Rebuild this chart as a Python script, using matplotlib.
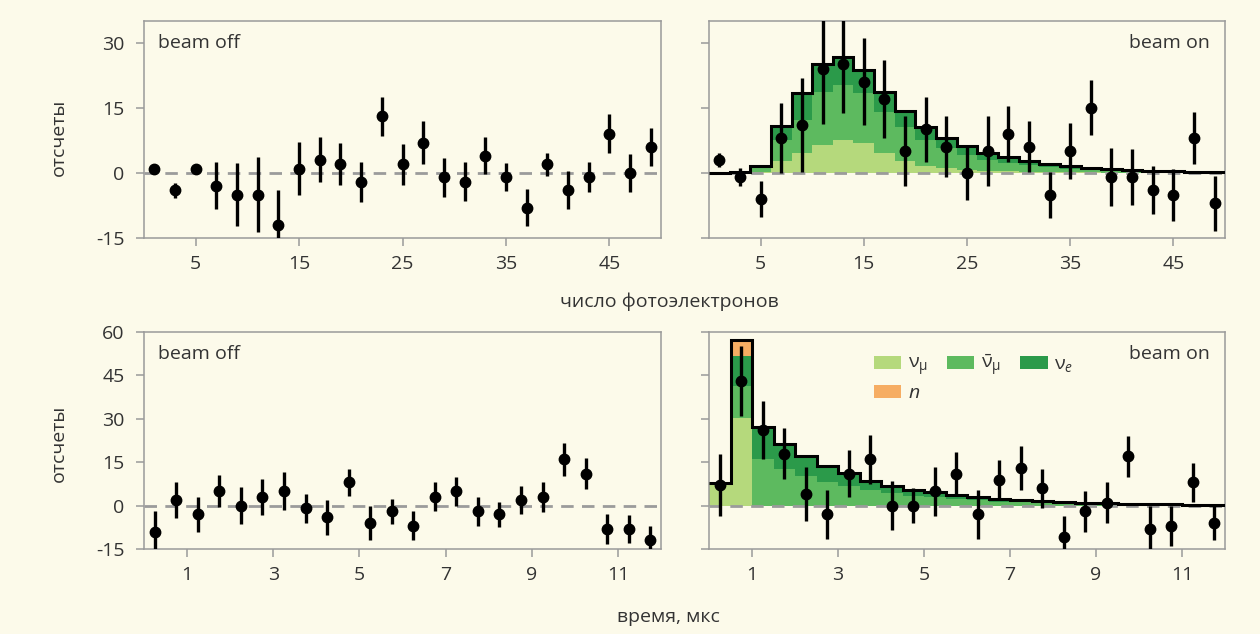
import numpy as np
import matplotlib
matplotlib.use("Agg")
import matplotlib.pyplot as plt
from matplotlib.patches import Patch

plt.rcParams["font.family"] = ["Open Sans", "DejaVu Sans"]
plt.rcParams["axes.unicode_minus"] = False
plt.rcParams["mathtext.fontset"] = "custom"
plt.rcParams["mathtext.rm"] = "Open Sans"
plt.rcParams["mathtext.it"] = "Open Sans:italic"
plt.rcParams["mathtext.bf"] = "Open Sans:bold"

# ---------------- photoelectron spectrum (bins of 2 PE) ----------------
pe_centers = np.arange(1, 50, 2)
pe_edges = np.arange(0, 51, 2)

pe_off = [1, -4, 1, -3, -5, -5, -12, 1, 3, 2, -2, 13, 2, 7, -1, -2, 4, -1, -8, 2, -4, -1, 9, 0, 6]
pe_off_err = [0.6, 1.7, 0.6, 5.4, 7.2, 8.7, 8.0, 6.2, 5.2, 4.9, 4.6, 4.6, 4.7, 5.0, 4.5, 4.5, 4.2,
              3.2, 4.3, 2.7, 4.4, 3.5, 4.5, 4.4, 4.4]

pe_on = [3, -1, -6, 8, 11, 24, 25, 21, 17, 5, 10, 6, 0, 5, 9, 6, -5, 5, 15, -1, -1, -4, -5, 8, -7]
pe_on_err = [1.6, 2.1, 4.1, 8.0, 10.9, 12.8, 11.2, 10.0, 9.0, 8.1, 7.4, 7.0, 6.3, 8.0, 6.5, 5.9,
             5.3, 6.4, 6.3, 6.7, 6.5, 5.5, 6.0, 6.0, 6.4]

pe_nu_mu = [0.02, 0.05, 0.3, 2.7, 4.6, 6.5, 7.6, 6.9, 4.6, 2.7, 1.6, 1.1, 0.7, 0.5, 0.35, 0.25,
            0.2, 0.15, 0.1, 0.08, 0.06, 0.05, 0.04, 0.03, 0.02]
pe_nu_mubar = [0.01, 0.02, 0.8, 4.9, 7.6, 12.2, 12.6, 11.4, 9.5, 7.9, 6.0, 4.6, 3.4, 2.5, 1.85,
               1.55, 1.15, 0.8, 0.6, 0.47, 0.39, 0.27, 0.21, 0.13, 0.08]
pe_nu_e = [0.02, 0.03, 0.6, 3.3, 6.1, 6.3, 6.3, 5.0, 4.3, 3.6, 3.0, 2.3, 2.0, 1.7, 1.4, 1.0,
           0.75, 0.55, 0.4, 0.35, 0.25, 0.18, 0.15, 0.09, 0.05]
pe_n = [0, 0, 0, 0, 0, 0.2, 0.3, 0.3, 0.2, 0, 0, 0, 0, 0, 0, 0, 0, 0, 0, 0, 0, 0, 0, 0, 0]

# ---------------- arrival time (bins of 0.5 us) ----------------
t_centers = np.arange(0.25, 12, 0.5)
t_edges = np.arange(0, 12.01, 0.5)

t_off = [-9, 2, -3, 5, 0, 3, 5, -1, -4, 8, -6, -2, -7, 3, 5, -2, -3, 2, 3, 16, 11, -8, -8, -12]
t_off_err = [7.2, 6.2, 6.1, 5.6, 6.3, 6.1, 6.5, 5.0, 6.0, 4.7, 6.0, 4.3, 5.0, 5.0, 5.0, 4.9,
             4.3, 4.9, 5.2, 5.7, 5.3, 5.1, 4.8, 5.0]

t_on = [7, 43, 26, 18, 4, -3, 11, 16, 0, 0, 5, 11, -3, 9, 13, 6, -11, -2, 1, 17, -8, -7, 8, -6]
t_on_err = [10.7, 12.0, 10.0, 8.7, 9.3, 8.5, 8.2, 8.4, 8.4, 6.1, 8.5, 7.6, 8.4, 6.7, 7.5, 6.7,
            7.4, 7.1, 7.0, 7.0, 8.0, 7.0, 6.8, 6.0]

t_nu_mu = [7.75, 30.2, 0, 0, 0, 0, 0, 0, 0, 0, 0, 0, 0, 0, 0, 0, 0, 0, 0, 0, 0, 0, 0, 0]
t_nu_mubar = [0, 11, 16, 12.5, 10.3, 8.3, 6.9, 5.3, 4.2, 3.4, 2.8, 2.2, 1.8, 1.4, 1.1, 0.9,
              0.75, 0.6, 0.5, 0.42, 0.36, 0.27, 0.21, 0.15]
t_nu_e = [0, 10.5, 11, 8.8, 6.8, 5.4, 4.3, 3.3, 2.6, 2.1, 1.8, 1.4, 1.1, 0.9, 0.7, 0.6, 0.5,
          0.4, 0.3, 0.28, 0.24, 0.18, 0.14, 0.1]
t_n = [0, 5.5, 0, 0, 0, 0, 0, 0, 0, 0, 0, 0, 0, 0, 0, 0, 0, 0, 0, 0, 0, 0, 0, 0]

component_labels = [r"$\mathrm{\nu}_\mathrm{\mu}$", r"$\bar{\mathrm{\nu}}_\mathrm{\mu}$",
                    r"$\mathrm{\nu}_e$", r"$n$"]
component_colors = ["#b5d97c", "#5dba5f", "#2b9a4a", "#f6ad63"]

BG = "#fcfaea"
SPINE = "#9a9a9a"
TEXT = "#333333"

fig = plt.figure(figsize=(12.6, 6.34), dpi=100, facecolor=BG)

W, H = 1260, 634


def make_ax(x0, y_top, w, h):
    return fig.add_axes([x0 / W, 1 - (y_top + h) / H, w / W, h / H])


ax_pe_off = make_ax(144, 21, 517, 217)
ax_pe_on = make_ax(709, 21, 516, 217)
ax_t_off = make_ax(144, 332, 517, 217)
ax_t_on = make_ax(709, 332, 516, 217)


def style(ax, show_ylabels):
    ax.set_facecolor(BG)
    for s in ax.spines.values():
        s.set_color(SPINE)
        s.set_linewidth(1.1)
    ax.tick_params(axis="both", direction="out", length=6, width=1.1, color=SPINE,
                   labelsize=14, labelcolor=TEXT, pad=6)
    ax.tick_params(axis="y", pad=8)
    if not show_ylabels:
        ax.tick_params(axis="y", labelleft=False)
    ax.axhline(0, color="#9b9b9b", lw=2, dashes=(4.5, 3), zorder=3)


def points(ax, x, y, err):
    ax.errorbar(x, y, yerr=err, fmt="o", color="black", ms=7.5, elinewidth=2.4,
                capsize=0, zorder=5)


def stack(ax, edges, comps):
    base = np.zeros(len(edges) - 1)
    for vals, col in zip(comps, component_colors):
        top = base + np.asarray(vals, dtype=float)
        ax.stairs(top, edges, baseline=base, fill=True, color=col, lw=0, zorder=2)
        base = top
    ax.stairs(base, edges, baseline=None, color="black", lw=2.2, zorder=4)


# photoelectron panels
for ax, y, e, lab in [(ax_pe_off, pe_off, pe_off_err, "beam off"),
                      (ax_pe_on, pe_on, pe_on_err, "beam on")]:
    style(ax, ax is ax_pe_off)
    ax.set_xlim(0, 50)
    ax.set_ylim(-15, 35)
    ax.set_xticks([5, 15, 25, 35, 45])
    ax.set_yticks([-15, 0, 15, 30])
    if ax is ax_pe_on:
        stack(ax, pe_edges, [pe_nu_mu, pe_nu_mubar, pe_nu_e, pe_n])
        ax.text(0.97, 0.9, lab, transform=ax.transAxes, ha="right", va="center",
                fontsize=14, color=TEXT)
    else:
        ax.text(0.028, 0.9, lab, transform=ax.transAxes, ha="left", va="center",
                fontsize=14, color=TEXT)
    points(ax, pe_centers, y, e)

# time panels
for ax, y, e, lab in [(ax_t_off, t_off, t_off_err, "beam off"),
                      (ax_t_on, t_on, t_on_err, "beam on")]:
    style(ax, ax is ax_t_off)
    ax.set_xlim(0, 12)
    ax.set_ylim(-15, 60)
    ax.set_xticks([1, 3, 5, 7, 9, 11])
    ax.set_yticks([-15, 0, 15, 30, 45, 60])
    if ax is ax_t_on:
        stack(ax, t_edges, [t_nu_mu, t_nu_mubar, t_nu_e, t_n])
        ax.text(0.97, 0.9, lab, transform=ax.transAxes, ha="right", va="center",
                fontsize=14, color=TEXT)
    else:
        ax.text(0.028, 0.9, lab, transform=ax.transAxes, ha="left", va="center",
                fontsize=14, color=TEXT)
    points(ax, t_centers, y, e)

# legend: first column holds nu_mu above n
handles = [Patch(facecolor=c, edgecolor="none") for c in component_colors]
order = [0, 3, 1, 2]
ax_t_on.legend([handles[i] for i in order], [component_labels[i] for i in order],
               ncol=3, loc="upper left", bbox_to_anchor=(0.3, 0.95), frameon=False,
               fontsize=14, handlelength=1.4, handleheight=0.7, handletextpad=0.35,
               columnspacing=1.0, labelspacing=0.3, borderpad=0, labelcolor=TEXT)

# shared axis titles
fig.text(59 / W, 1 - 137 / H, "отсчеты", rotation=90, ha="center", va="center",
         fontsize=14, color=TEXT)
fig.text(59 / W, 1 - 443 / H, "отсчеты", rotation=90, ha="center", va="center",
         fontsize=14, color=TEXT)
fig.text(669 / W, 1 - 302 / H, "число фотоэлектронов", ha="center", va="center",
         fontsize=14, color=TEXT)
fig.text(668 / W, 1 - 617 / H, "время, мкс", ha="center", va="center",
         fontsize=14, color=TEXT)

fig.savefig("out.png", dpi=100, facecolor=BG)
